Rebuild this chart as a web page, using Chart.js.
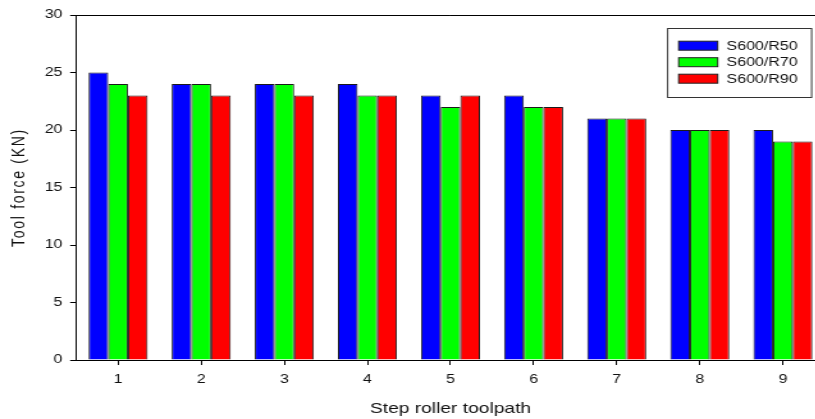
<!DOCTYPE html>
<html>
<head>
<meta charset="utf-8">
<script src="https://cdn.jsdelivr.net/npm/chart.js@4"></script>
<style>
  html, body { margin: 0; padding: 0; background: #fff; width: 815px; height: 419px; overflow: hidden; }
  #wrap { width: 650px; height: 419px; transform: scaleX(1.28); transform-origin: 0 0; }
</style>
</head>
<body>
<div id="wrap"><canvas id="chart" width="650" height="419"></canvas></div>
<script>
const categories = ['1', '2', '3', '4', '5', '6', '7', '8', '9'];
const seriesNames = ['S600/R50', 'S600/R70', 'S600/R90'];
const r50 = [25, 24, 24, 24, 23, 23, 21, 20, 20];
const r70 = [24, 24, 24, 23, 22, 22, 21, 20, 19];
const r90 = [23, 23, 23, 23, 23, 22, 21, 20, 19];
const colors = ['#0000ff', '#00ff00', '#ff0000'];
const yTitle = 'Tool force (KN)';
const xTitle = 'Step roller toolpath';

const FONT = 'Liberation Sans, Arial, sans-serif';

// frame top line, y title and boxed legend inside the plot
const extras = {
    id: 'extras',
    afterDraw(chart) {
        const ctx = chart.ctx;
        const area = chart.chartArea;
        ctx.save();
        ctx.strokeStyle = '#000';
        ctx.lineWidth = 1;
        ctx.beginPath();
        ctx.moveTo(area.left, area.top + 0.5);
        ctx.lineTo(area.right, area.top + 0.5);
        ctx.stroke();

        ctx.fillStyle = '#111';
        ctx.font = '14px ' + FONT;
        ctx.letterSpacing = '1.7px';
        ctx.textAlign = 'center';
        ctx.textBaseline = 'middle';
        ctx.translate(14.8, (area.top + area.bottom) / 2);
        ctx.rotate(-Math.PI / 2);
        ctx.fillText(yTitle, 0, 0);
        ctx.restore();

        // legend
        ctx.save();
        const boxRight = area.right - 10;
        const boxLeft = boxRight - 112.5;
        const boxTop = area.top + 13;
        ctx.strokeStyle = '#333';
        ctx.lineWidth = 1;
        ctx.strokeRect(boxLeft, boxTop + 0.5, 112.5, 69);
        ctx.font = '12.5px ' + FONT;
        ctx.textAlign = 'left';
        ctx.textBaseline = 'middle';
        chart.data.datasets.forEach((ds, i) => {
            const cy = boxTop + 17.7 + i * 16.5;
            ctx.fillStyle = ds.backgroundColor;
            ctx.fillRect(boxLeft + 8.6, cy - 4.5, 30.5, 9);
            ctx.strokeStyle = '#222';
            ctx.strokeRect(boxLeft + 8.6, cy - 4.5, 30.5, 9);
            ctx.fillStyle = '#111';
            ctx.fillText(ds.label, boxLeft + 46, cy + 0.5);
        });
        ctx.restore();
    }
};

new Chart(document.getElementById('chart'), {
    type: 'bar',
    data: {
        labels: categories,
        datasets: [r50, r70, r90].map((vals, i) => ({
            label: seriesNames[i],
            data: vals,
            backgroundColor: colors[i],
            borderColor: '#1a1a1a',
            borderWidth: 1,
            barPercentage: 1,
            categoryPercentage: 0.71
        }))
    },
    options: {
        responsive: false,
        animation: false,
        devicePixelRatio: 1,
        layout: { padding: { top: 15, right: 5.9, left: 0, bottom: 0 } },
        plugins: {
            legend: { display: false },
            tooltip: { enabled: false }
        },
        scales: {
            x: {
                grid: { display: true, drawOnChartArea: false, offset: false, tickLength: 5, color: '#000' },
                border: { display: true, color: '#000', width: 1 },
                ticks: { color: '#111', padding: 7, font: { family: FONT, size: 12.5 } },
                title: {
                    display: true, text: xTitle, color: '#111',
                    font: { family: FONT, size: 15 },
                    padding: { top: 0, bottom: 1.5 }
                },
                afterFit(scale) { scale.height = 59; }
            },
            y: {
                min: 0,
                max: 30,
                grid: { display: true, drawOnChartArea: false, tickLength: 5, color: '#000' },
                border: { display: true, color: '#000', width: 1 },
                ticks: { stepSize: 5, color: '#111', padding: 6, font: { family: FONT, size: 12.5 } },
                afterFit(scale) { scale.width = 59.8; }
            }
        }
    },
    plugins: [extras]
});
</script>
</body>
</html>
